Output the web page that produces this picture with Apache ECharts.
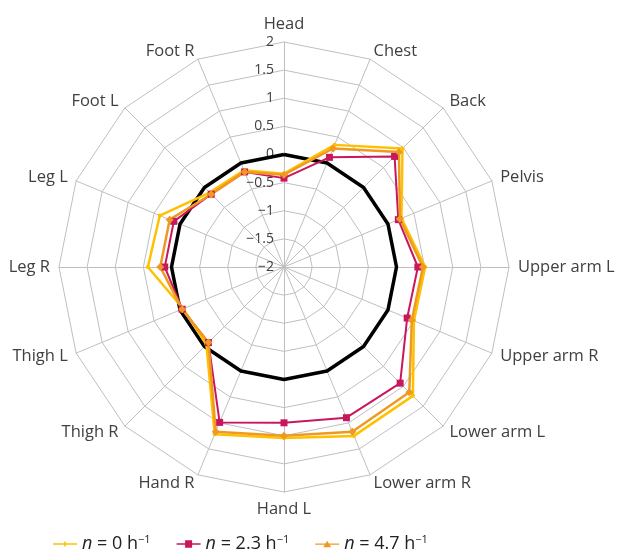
<!DOCTYPE html>
<html>
<head>
<meta charset="utf-8">
<script src="https://cdn.jsdelivr.net/npm/echarts@6/dist/echarts.min.js"></script>
<style>
html, body { margin: 0; padding: 0; background: #fff; }
#chart { width: 619px; height: 559px; }
</style>
</head>
<body>
<div id="chart"></div>
<script>
// body parts, clockwise from the top
var parts = ['Head', 'Chest', 'Back', 'Pelvis', 'Upper arm L', 'Upper arm R', 'Lower arm L', 'Lower arm R',
    'Hand L', 'Hand R', 'Thigh R', 'Thigh L', 'Leg R', 'Leg L', 'Foot L', 'Foot R'];
var n0 = [-0.34, 0.35, 0.98, 0.26, 0.51, 0.50, 1.24, 1.25, 1.04, 1.22, -0.05, -0.06, 0.42, 0.39, -0.13, -0.14];
var n23 = [-0.42, 0.11, 0.78, 0.20, 0.38, 0.37, 0.92, 0.90, 0.77, 0.99, -0.10, -0.04, 0.12, 0.12, -0.17, -0.17];
var n47 = [-0.36, 0.28, 0.89, 0.23, 0.47, 0.46, 1.15, 1.17, 1.00, 1.17, -0.10, -0.04, 0.20, 0.20, -0.17, -0.17];
var zero = [0, 0, 0, 0, 0, 0, 0, 0, 0, 0, 0, 0, 0, 0, 0, 0];
var seriesNames = ['n0', 'n23', 'n47'];
var legendText = {
    n0: '{i|n} = 0 h{s|−1}',
    n23: '{i|n} = 2.3 h{s|−1}',
    n47: '{i|n} = 4.7 h{s|−1}'
};

// echarts radar runs counter-clockwise, so flip everything after the first axis
function cw(a) {
    return [a[0]].concat(a.slice(1).reverse());
}

var indicator = cw(parts).map(function (p, i) {
    var ind = { name: p, min: -2, max: 2 };
    if (i === 0) {
        ind.axisLabel = {
            show: true,
            color: '#404040',
            fontSize: 14,
            fontFamily: 'Open Sans',
            margin: 10,
            formatter: function (v) { return String(v).replace('-', '−'); }
        };
    }
    return ind;
});

// legend icon: thin line with a marker in the middle
var iconSquare = 'path://M0,4L24,4L24,5.5L0,5.5Z M8.5,1L15.5,1L15.5,8.5L8.5,8.5Z';
var iconTri = 'path://M0,4.2L24,4.2L24,5.6L0,5.6Z M12,1.5L16,8L8,8Z';
var iconDash = 'path://M0,4.2L24,4.2L24,5.6L0,5.6Z M11.2,2.5L12.8,2.5L12.8,7.3L11.2,7.3Z';

var option = {
    animation: false,
    legend: {
        data: [
            { name: 'n0', icon: iconDash },
            { name: 'n23', icon: iconSquare },
            { name: 'n47', icon: iconTri }
        ],
        bottom: 1,
        left: 48,
        itemWidth: 24,
        itemHeight: 9,
        itemGap: 26,
        formatter: function (name) { return legendText[name]; },
        textStyle: {
            color: '#222',
            fontSize: 18,
            fontFamily: 'Open Sans',
            rich: {
                i: { fontStyle: 'italic', fontSize: 18, fontFamily: 'Open Sans', color: '#222' },
                s: { fontSize: 11, fontFamily: 'Open Sans', color: '#222', padding: [0, 0, 9, 0] }
            }
        }
    },
    radar: {
        center: [284, 267],
        radius: 225,
        shape: 'polygon',
        splitNumber: 8,
        indicator: indicator,
        axisName: {
            color: '#404040',
            fontSize: 16.5,
            fontFamily: 'Open Sans'
        },
        nameGap: 9,
        axisLine: { lineStyle: { color: '#bfbfbf', width: 1 } },
        splitLine: { lineStyle: { color: '#bfbfbf', width: 1 } },
        splitArea: { show: false }
    },
    series: [{
        type: 'radar',
        silent: true,
        symbol: 'none',
        data: [{
            name: 'zero',
            value: cw(zero),
            lineStyle: { color: '#000', width: 3.5 }
        }]
    }, {
        name: 'n0',
        type: 'radar',
        symbol: 'circle',
        symbolSize: 4,
        itemStyle: { color: '#ffc000' },
        lineStyle: { color: '#ffc000', width: 2.5 },
        data: [{ name: 'n0', value: cw(n0) }]
    }, {
        name: 'n23',
        type: 'radar',
        symbol: 'rect',
        symbolSize: 7,
        itemStyle: { color: '#c8175d' },
        lineStyle: { color: '#c8175d', width: 2 },
        data: [{ name: 'n23', value: cw(n23) }]
    }, {
        name: 'n47',
        type: 'radar',
        symbol: 'diamond',
        symbolSize: 8,
        itemStyle: { color: '#ee9a22' },
        lineStyle: { color: '#ee9a22', width: 2.5 },
        data: [{ name: 'n47', value: cw(n47) }]
    }]
};

var myChart = echarts.init(document.getElementById('chart'));
myChart.setOption(option);
</script>
</body>
</html>
